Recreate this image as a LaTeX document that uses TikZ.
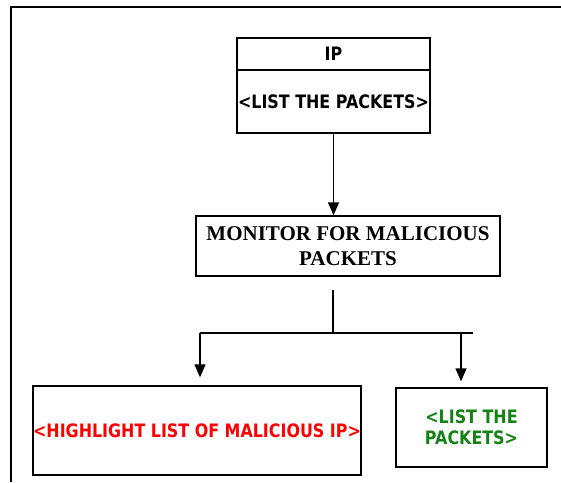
\documentclass[tikz,border=0pt]{standalone}
\usepackage{fontspec}
\setmainfont{Liberation Serif}
\newfontfamily\boxfont{DejaVu Sans}[FakeStretch=0.86]
\usetikzlibrary{arrows.meta}
\definecolor{hlred}{RGB}{255,0,0}
\definecolor{pktgreen}{RGB}{20,130,20}
\begin{document}
\begin{tikzpicture}[x=1pt, y=-1pt,
	box/.style={draw, line width=1.3pt, inner sep=0pt, align=center},
	tag/.style={font=\boxfont\bfseries\fontsize{18.5}{21}\selectfont},
	flow/.style={line width=1.3pt, -{Triangle[width=11pt,length=13pt]}}]
	\useasboundingbox (0,0) rectangle (561,482);
	% frame
	\draw[line width=1.6pt] (11,482) -- (11,7) -- (561,7);
	
	\node[box, tag, minimum width=193pt, minimum height=32pt] (iptop) at (333.5,54) {IP};
	\node[box, tag, minimum width=193pt, minimum height=63pt] (iplist) at (333.5,101.5) {<LIST THE PACKETS>};
	
	\node[box, minimum width=304pt, minimum height=60pt, font=\bfseries\fontsize{21}{25}\selectfont] (monitor) at (348,246) {MONITOR FOR MALICIOUS\\PACKETS};
	
	\node[box, tag, text=hlred, minimum width=328pt, minimum height=89pt] (malip) at (197,430.5) {<HIGHLIGHT LIST OF MALICIOUS IP>};
	\node[box, tag, text=pktgreen, minimum width=151pt, minimum height=79pt] (pkts) at (471.5,427.5) {<LIST THE\\PACKETS>};
	
	\coordinate (split) at (333,290);
	\coordinate (fork) at (333,333);
	\coordinate (forkl) at (200,333);
	\coordinate (forkr) at (473,333);
	\coordinate (dropr) at (461,333);
	
	\draw[flow] (iplist.south) -- (iplist.south |- monitor.north);
	\draw[line width=1.3pt] (split) -- (fork);
	\draw[line width=1.3pt] (forkl) -- (forkr);
	\draw[flow, shorten >=8pt] (forkl) -- (forkl |- malip.north);
	\draw[flow, shorten >=6pt] (dropr) -- (dropr |- pkts.north);
\end{tikzpicture}
\end{document}
